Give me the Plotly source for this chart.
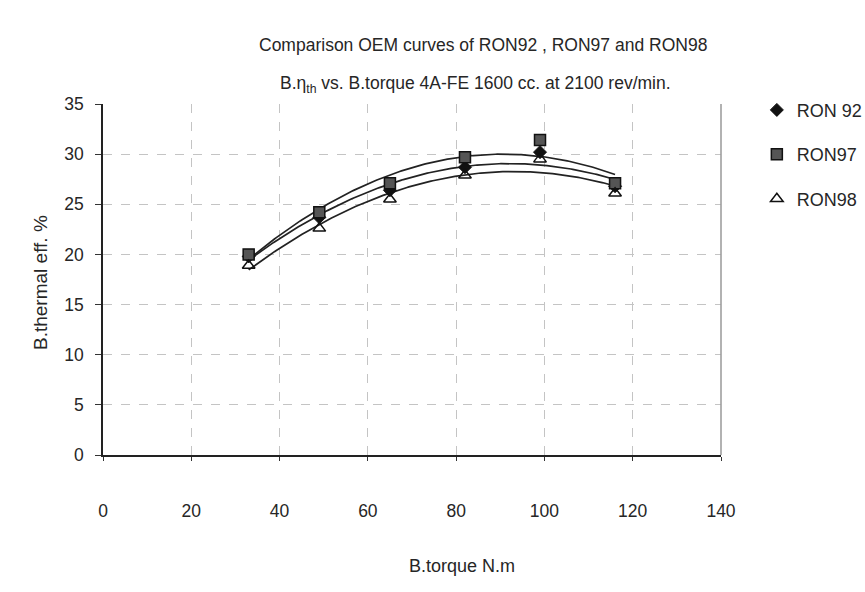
import numpy as np
import plotly.graph_objects as go

torque = [33, 49, 65, 82, 99, 116]
ron92 = [19.8, 23.7, 26.4, 28.7, 30.2, 26.8]
ron97 = [20.0, 24.2, 27.1, 29.7, 31.4, 27.1]
ron98 = [18.9, 22.6, 25.5, 27.9, 29.5, 26.1]

x_ticks = [0, 20, 40, 60, 80, 100, 120, 140]
y_ticks = [0, 5, 10, 15, 20, 25, 30, 35]

FONT = "Liberation Sans, Arial, sans-serif"
TXT = "#262626"

fig = go.Figure()

# Polynomial (order 2) trendlines computed from the data
xs = np.linspace(min(torque), max(torque), 200)
for ys in (ron92, ron97, ron98):
    c = np.polyfit(torque, ys, 2)
    fig.add_trace(go.Scatter(x=xs, y=np.polyval(c, xs), mode="lines",
                             line=dict(color="#222222", width=1.7),
                             showlegend=False, hoverinfo="skip"))

fig.add_trace(go.Scatter(x=torque, y=ron92, mode="markers", name="RON 92",
                         legendgroup="a",
                         marker=dict(symbol="diamond", size=10, color="#111111",
                                     line=dict(color="#111111", width=1))))
fig.add_trace(go.Scatter(x=torque, y=ron97, mode="markers", name="RON97",
                         legendgroup="b",
                         marker=dict(symbol="square", size=11, color="#555555",
                                     line=dict(color="#111111", width=1.5))))
fig.add_trace(go.Scatter(x=torque, y=ron98, mode="markers", name="RON98",
                         legendgroup="c",
                         marker=dict(symbol="triangle-up-open", size=11, color="#111111",
                                     line=dict(width=1.5))))

fig.update_layout(
    width=865, height=592,
    margin=dict(l=103, r=144, t=104, b=137, autoexpand=False),
    paper_bgcolor="white", plot_bgcolor="white",
    font=dict(family=FONT, size=17.5, color=TXT),
    showlegend=True,
    legend=dict(x=1.058, y=1.035, xanchor="left", yanchor="top",
                font=dict(size=18, color=TXT),
                bgcolor="rgba(0,0,0,0)", borderwidth=0,
                itemwidth=30, tracegroupgap=18),
    xaxis=dict(range=[0, 140], tickvals=x_ticks, ticks="outside", ticklen=4,
               tickcolor="#333", showline=True, linecolor="#222222", linewidth=1.5,
               mirror=False, showgrid=True, gridcolor="#c4c4c4", griddash="dash",
               gridwidth=1, zeroline=False, ticklabelstandoff=35,
               tickfont=dict(size=17.5)),
    yaxis=dict(range=[0, 35], tickvals=y_ticks, ticks="outside", ticklen=6,
               tickcolor="#333", showline=True, linecolor="#222222", linewidth=1.5,
               showgrid=True, gridcolor="#c4c4c4", griddash="dash", gridwidth=1,
               zeroline=False, ticklabelstandoff=8, tickfont=dict(size=17.5)),
)

# right border
fig.add_shape(type="line", xref="paper", yref="paper", x0=1, x1=1, y0=0, y1=1,
              line=dict(color="#999999", width=1.5))

fig.add_annotation(text="Comparison OEM curves of RON92 , RON97 and RON98",
                   xref="paper", yref="paper", x=0.615, y=1.0, yshift=71,
                   showarrow=False, font=dict(size=17.5, color=TXT))
fig.add_annotation(text="B.η<sub>th</sub> vs. B.torque 4A-FE 1600 cc. at 2100 rev/min.",
                   xref="paper", yref="paper", x=0.602, y=1.0, yshift=33,
                   showarrow=False, font=dict(size=17.5, color=TXT))
fig.add_annotation(text="B.torque N.m", xref="paper", yref="paper",
                   x=0.581, y=0, yshift=-123, showarrow=False,
                   font=dict(size=18, color=TXT))
fig.add_annotation(text="B.thermal eff. %", xref="paper", yref="paper",
                   x=0, xanchor="center", xshift=-63, y=0.49, yanchor="middle",
                   textangle=-90, showarrow=False,
                   font=dict(size=19, color=TXT))

fig.write_html("out.html")
